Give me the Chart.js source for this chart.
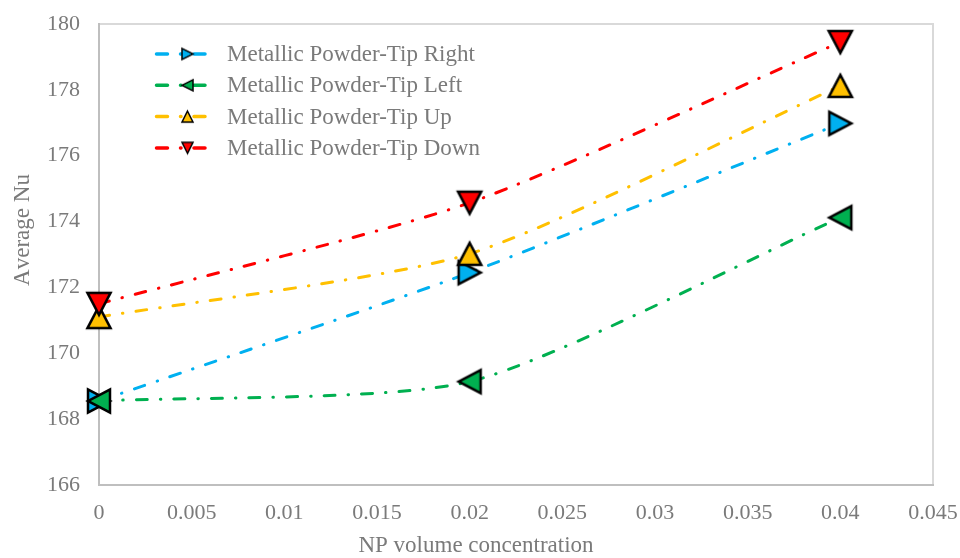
<!DOCTYPE html>
<html>
<head>
<meta charset="utf-8">
<script src="https://cdn.jsdelivr.net/npm/chart.js@4.4.1/dist/chart.umd.min.js"></script>
<style>
  html, body { margin: 0; padding: 0; background: #ffffff; }
  #wrap { width: 960px; height: 558px; position: relative; }
</style>
</head>
<body>
<div id="wrap"><canvas id="chart" width="960" height="558"></canvas></div>
<script>
// NP volume concentrations (x) and average Nusselt numbers per tip orientation
const concentrations = [0, 0.02, 0.04];
const nuTipRight = [168.55, 172.45, 176.98];
const nuTipLeft  = [168.55, 169.14, 174.12];
const nuTipUp    = [171.10, 173.02, 178.12];
const nuTipDown  = [171.50, 174.57, 179.45];

const seriesNames = [
  'Metallic Powder-Tip Right',
  'Metallic Powder-Tip Left',
  'Metallic Powder-Tip Up',
  'Metallic Powder-Tip Down'
];
const xTickLabels = ['0', '0.005', '0.01', '0.015', '0.02', '0.025', '0.03', '0.035', '0.04', '0.045'];
const yTickLabels = ['166', '168', '170', '172', '174', '176', '178', '180'];

const FONT = "'Liberation Serif', 'Times New Roman', serif";
const TEXT_GREY = '#7a7a7a';
const colors = ['#00B0F0', '#00B050', '#FFC000', '#FF0000'];
const rotations = [90, 270, 0, 180];   // triangle pointing right, left, up, down
const dashPattern = [11, 13, 0.5, 13];

// Triangle marker drawn centred in its own square box
function triangleImage(fill, w, h, lw) {
  const size = Math.ceil(Math.max(w, h) + lw * 4);
  const c = document.createElement('canvas');
  c.width = size; c.height = size;
  const g = c.getContext('2d');
  const cx = size / 2, cy = size / 2;
  g.beginPath();
  g.moveTo(cx, cy - h / 2);
  g.lineTo(cx + w / 2, cy + h / 2);
  g.lineTo(cx - w / 2, cy + h / 2);
  g.closePath();
  g.fillStyle = fill;
  g.fill();
  g.lineWidth = lw;
  g.lineJoin = 'miter';
  g.strokeStyle = '#000000';
  g.stroke();
  return c;
}

const bigMarkers = colors.map(c => triangleImage(c, 23, 22, 2.6));
const smallMarkers = colors.map(c => triangleImage(c, 11, 11, 1.5));

function toPoints(ys) {
  return concentrations.map((x, i) => ({ x: x, y: ys[i] }));
}

const allSeries = [nuTipRight, nuTipLeft, nuTipUp, nuTipDown];

const datasets = allSeries.map((ys, i) => ({
  label: seriesNames[i],
  data: toPoints(ys),
  borderColor: colors[i],
  backgroundColor: colors[i],
  borderWidth: 3,
  borderDash: dashPattern,
  borderCapStyle: 'round',
  tension: 0.22,
  pointStyle: bigMarkers[i],
  pointRotation: rotations[i],
  pointRadius: 14,
  clip: false,
  order: 3 - i
}));

// Light frame round the plot area
const plotFrame = {
  id: 'plotFrame',
  beforeDraw(chart) {
    const a = chart.chartArea;
    const ctx = chart.ctx;
    ctx.save();
    ctx.strokeStyle = '#d9d9d9';
    ctx.lineWidth = 2;
    ctx.strokeRect(a.left, a.top, a.right - a.left, a.bottom - a.top);
    ctx.restore();
  }
};

// Axis titles
const axisTitles = {
  id: 'axisTitles',
  afterDraw(chart) {
    const ctx = chart.ctx;
    ctx.save();
    ctx.fillStyle = TEXT_GREY;
    ctx.font = '23px ' + FONT;
    if ('fontKerning' in ctx) ctx.fontKerning = 'none';
    ctx.textAlign = 'center';
    ctx.textBaseline = 'middle';
    ctx.fillText('NP volume concentration', 476, 546);
    ctx.translate(23, 230);
    ctx.rotate(-Math.PI / 2);
    ctx.fillText('Average Nu', 0, 0);
    ctx.restore();
  }
};

// Legend inside the plot: dash-dot sample line with a small marker, then the name
const insideLegend = {
  id: 'insideLegend',
  afterDraw(chart) {
    const ctx = chart.ctx;
    ctx.save();
    for (let i = 0; i < seriesNames.length; i++) {
      const y = 54 + i * 31.3;
      ctx.beginPath();
      ctx.setLineDash(dashPattern);
      ctx.lineCap = 'round';
      ctx.lineWidth = 3.5;
      ctx.strokeStyle = colors[i];
      ctx.moveTo(156.5, y);
      ctx.lineTo(209, y);
      ctx.stroke();
      ctx.setLineDash([]);
      const m = smallMarkers[i];
      ctx.save();
      ctx.translate(187.5, y);
      ctx.rotate(rotations[i] * Math.PI / 180);
      ctx.drawImage(m, -m.width / 2, -m.height / 2);
      ctx.restore();
      ctx.fillStyle = TEXT_GREY;
      ctx.font = '23px ' + FONT;
      ctx.textAlign = 'left';
      ctx.textBaseline = 'middle';
      ctx.fillText(seriesNames[i], 227, y + 1);
    }
    ctx.restore();
  }
};

new Chart(document.getElementById('chart'), {
  type: 'line',
  data: { datasets: datasets },
  options: {
    responsive: false,
    animation: false,
    events: [],
    layout: { padding: { left: 0, right: 27, top: 24, bottom: 0 } },
    plugins: {
      legend: { display: false },
      tooltip: { enabled: false },
      title: { display: false }
    },
    scales: {
      x: {
        type: 'linear',
        min: 0,
        max: 0.045,
        afterBuildTicks(scale) {
          scale.ticks = xTickLabels.map(t => ({ value: parseFloat(t) }));
        },
        afterFit(scale) {
          scale.height = 73;
          scale.paddingLeft = 0;
          scale.paddingRight = 0;
        },
        grid: { display: false, drawTicks: false },
        border: { display: true, color: '#bfbfbf', width: 2 },
        ticks: {
          padding: 15,
          maxRotation: 0,
          autoSkip: false,
          color: TEXT_GREY,
          font: { family: FONT, size: 22 },
          callback: (v, i) => xTickLabels[i]
        }
      },
      y: {
        type: 'linear',
        min: 166,
        max: 180,
        afterBuildTicks(scale) {
          scale.ticks = yTickLabels.map(t => ({ value: parseFloat(t) }));
        },
        afterFit(scale) {
          scale.width = 99;
          scale.paddingTop = 0;
          scale.paddingBottom = 0;
        },
        grid: { display: false, drawTicks: false },
        border: { display: true, color: '#bfbfbf', width: 2 },
        ticks: {
          padding: 19,
          autoSkip: false,
          color: TEXT_GREY,
          font: { family: FONT, size: 22 },
          callback: (v, i) => yTickLabels[i]
        }
      }
    }
  },
  plugins: [plotFrame, axisTitles, insideLegend]
});
</script>
</body>
</html>
